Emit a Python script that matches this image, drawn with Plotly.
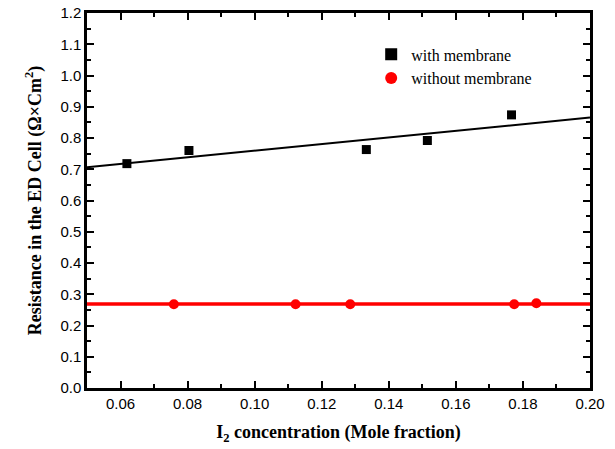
import numpy as np
import plotly.graph_objects as go

# data
x_mem = [0.0619, 0.0804, 0.1333, 0.1515, 0.1766]
y_mem = [0.718, 0.760, 0.763, 0.792, 0.874]
x_nomem = [0.0759, 0.1122, 0.1285, 0.1774, 0.1840]
y_nomem = [0.268, 0.268, 0.268, 0.268, 0.271]
x_range = [0.05, 0.20]
x_ticks = [0.06, 0.08, 0.10, 0.12, 0.14, 0.16, 0.18, 0.20]
y_ticks = [round(0.1 * i, 1) for i in range(13)]

# linear fits
p_mem = np.polyfit(x_mem, y_mem, 1)
fit_x = np.array(x_range)
fit_mem = np.polyval(p_mem, fit_x)
fit_nomem = np.full(2, np.mean(y_nomem))

fig = go.Figure()
fig.add_trace(go.Scatter(x=fit_x, y=fit_mem, mode="lines",
                         line=dict(color="black", width=2), showlegend=False, hoverinfo="skip"))
fig.add_trace(go.Scatter(x=fit_x, y=fit_nomem, mode="lines",
                         line=dict(color="#ff0000", width=3.5), showlegend=False, hoverinfo="skip"))
fig.add_trace(go.Scatter(x=x_mem, y=y_mem, mode="markers", name="with membrane",
                         marker=dict(symbol="square", size=9, color="black")))
fig.add_trace(go.Scatter(x=x_nomem, y=y_nomem, mode="markers", name="without membrane",
                         marker=dict(symbol="circle", size=10, color="#ff0000")))

axis_common = dict(showline=True, linecolor="black", linewidth=2.5, mirror="ticks",
                   ticks="inside", ticklen=7, tickwidth=2, tickcolor="black",
                   showgrid=False, zeroline=False, automargin=False,
                   tickfont=dict(family="Liberation Sans, Arial", size=15, color="black"))
title_font = dict(family="Liberation Serif, Times New Roman", size=18, color="black")

fig.update_xaxes(range=x_range, tickvals=x_ticks, tickformat=".2f",
                 minor=dict(ticks="inside", ticklen=4, tickwidth=2, tickcolor="black", dtick=0.01, tick0=0.05),
                 title=dict(text="<b>I<sub>2</sub> concentration (Mole fraction)</b>", font=title_font),
                 **axis_common)
fig.update_yaxes(range=[0, 1.2], tickvals=y_ticks, tickformat=".1f",
                 minor=dict(ticks="inside", ticklen=4, tickwidth=2, tickcolor="black", dtick=0.05, tick0=0),
                 title=dict(text="<b>Resistance in the ED Cell (Ω×Cm<sup>2</sup>)</b>", font=title_font),
                 **axis_common)

fig.update_layout(
    width=615, height=449,
    margin=dict(l=87, r=25, t=13, b=61),
    plot_bgcolor="white", paper_bgcolor="white",
    font=dict(family="Liberation Serif", color="black"),
    legend=dict(x=0.565, y=0.935, xanchor="left", yanchor="top",
                bgcolor="rgba(0,0,0,0)", borderwidth=0,
                font=dict(family="Liberation Serif, Times New Roman", size=16, color="black"),
                tracegroupgap=0, itemsizing="constant"),
)
fig.write_html("out.html", config={"displayModeBar": False},
               post_script="document.body.style.margin='0';document.body.style.overflow='hidden';")
